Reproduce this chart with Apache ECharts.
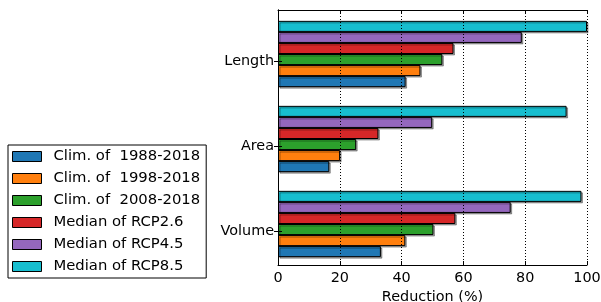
<!DOCTYPE html>
<html>
<head>
<meta charset="utf-8">
<script src="https://cdn.jsdelivr.net/npm/echarts@6/dist/echarts.min.js"></script>
<style>
  html, body { margin: 0; padding: 0; background: #fff; }
  #main { width: 601px; height: 302px; }
</style>
</head>
<body>
<div id="main"></div>
<script>
// categories from bottom to top (ECharts category y axis grows upward)
var categories = ['Volume', 'Area', 'Length'];
var xTicks = [0, 20, 40, 60, 80, 100];

// values per category, same order as categories
var clim1988 = [33.3, 16.6, 41.3];
var clim1998 = [41.2, 20.1, 46.1];
var clim2008 = [50.3, 25.3, 53.2];
var rcp26 = [57.4, 32.5, 56.8];
var rcp45 = [75.3, 49.9, 78.9];
var rcp85 = [98.2, 93.4, 100];

var seriesNames = ['Clim. of  1988-2018', 'Clim. of  1998-2018', 'Clim. of  2008-2018',
                   'Median of RCP2.6', 'Median of RCP4.5', 'Median of RCP8.5'];
var seriesData = [clim1988, clim1998, clim2008, rcp26, rcp45, rcp85];
var colors = ['#1f77b4', '#ff7f0e', '#2ca02c', '#d62728', '#9467bd', '#17becf'];

var font = 'DejaVu Sans';

// the y tick of each group sits a bit below the group centre (like matplotlib's
// offset bars), so ticks/labels go on a finer helper axis: 16 slots, labels on 2, 7, 12
var tickSlots = [];
for (var s = 0; s < 16; s++) tickSlots.push('');
categories.forEach(function (c, k) { tickSlots[2 + 5 * k] = c; });
function isLabelSlot(idx, val) { return val !== ''; }

// ECharts puts the first series of a horizontal group at the top,
// so add them in reverse to keep the blue bar at the bottom
var series = [];
for (var i = seriesData.length - 1; i >= 0; i--) {
    series.push({
        name: seriesNames[i],
        type: 'bar',
        xAxisIndex: 2,
        yAxisIndex: 2,
        data: seriesData[i],
        barGap: '0%',
        barCategoryGap: '22%',
        itemStyle: {
            color: colors[i],
            borderColor: '#000',
            borderWidth: 1,
            shadowColor: 'rgba(0,0,0,0.35)',
            shadowOffsetX: 1.5,
            shadowOffsetY: 1.5,
            shadowBlur: 0
        }
    });
}

var axisLine = { show: true, lineStyle: { color: '#000', width: 1 } };
var tick = { show: true, inside: true, length: 4, lineStyle: { color: '#000' } };
var yTick = { show: true, inside: true, length: 4, interval: isLabelSlot, lineStyle: { color: '#000' } };

var myChart = echarts.init(document.getElementById('main'));
myChart.setOption({
    animation: false,
    textStyle: { fontFamily: font },
    grid: [
        { left: 278, right: 14, top: 10, bottom: 37, containLabel: false, outerBoundsMode: 'none' },
        { left: 278, right: 14, top: 11.5, bottom: 35.5, containLabel: false, outerBoundsMode: 'none' }
    ],
    legend: {
        orient: 'vertical',
        left: 8,
        top: 145,
        data: seriesNames,
        icon: 'rect',
        itemWidth: 29,
        itemHeight: 10,
        itemGap: 7,
        padding: [4, 6, 4, 4],
        borderColor: '#000',
        borderWidth: 1,
        itemStyle: { borderColor: '#000', borderWidth: 1 },
        textStyle: { fontFamily: font, fontSize: 14.8, color: '#000', lineHeight: 15, padding: [0, 0, 0, 7] }
    },
    xAxis: [
        {
            gridIndex: 0,
            type: 'value',
            min: xTicks[0],
            max: xTicks[xTicks.length - 1],
            interval: 20,
            position: 'bottom',
            z: 10,
            name: 'Reduction (%)',
            nameLocation: 'middle',
            nameGap: 21,
            nameTextStyle: { fontFamily: font, fontSize: 14.4, color: '#000' },
            axisLine: axisLine,
            axisTick: tick,
            axisLabel: { fontFamily: font, fontSize: 14.4, color: '#000', margin: 6 },
            splitLine: { show: true, lineStyle: { color: '#000', type: [1, 2], width: 1 } }
        },
        {
            gridIndex: 0,
            type: 'value',
            min: xTicks[0],
            max: xTicks[xTicks.length - 1],
            interval: 20,
            position: 'top',
            z: 10,
            axisLine: axisLine,
            axisTick: tick,
            axisLabel: { show: false },
            splitLine: { show: false }
        },
        {
            gridIndex: 1,
            type: 'value',
            min: xTicks[0],
            max: xTicks[xTicks.length - 1],
            show: false
        }
    ],
    yAxis: [
        {
            gridIndex: 0,
            type: 'category',
            data: tickSlots,
            boundaryGap: false,
            position: 'left',
            z: 10,
            axisLine: axisLine,
            axisTick: yTick,
            axisLabel: { interval: isLabelSlot, fontFamily: font, fontSize: 14.4, color: '#000', margin: 4 }
        },
        {
            gridIndex: 0,
            type: 'category',
            data: tickSlots,
            boundaryGap: false,
            position: 'right',
            z: 10,
            axisLine: axisLine,
            axisTick: yTick,
            axisLabel: { show: false }
        },
        {
            gridIndex: 1,
            type: 'category',
            data: categories,
            show: false
        }
    ],
    series: series
});
window.onresize = function () {
    myChart.resize();
};
</script>
</body>
</html>
